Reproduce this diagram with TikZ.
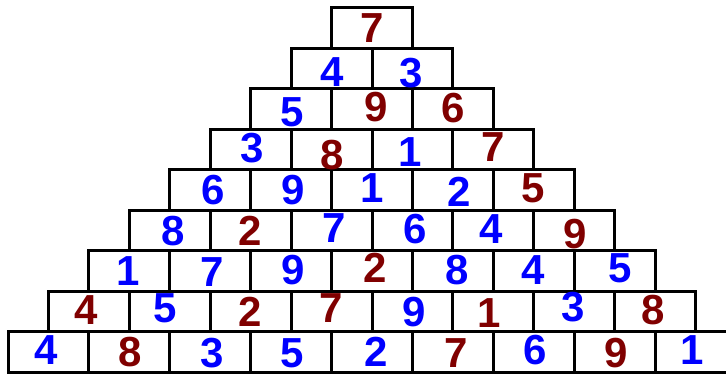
\documentclass[tikz,border=0pt]{standalone}
\usepackage{fontspec}
\setmainfont{Liberation Sans}
\definecolor{dblue}{RGB}{0,0,255}
\definecolor{dred}{RGB}{128,0,0}
\tikzset{
  cell/.style={draw=black, line width=3pt},
  dig/.style={font=\fontsize{42}{42}\selectfont\bfseries, inner sep=0pt, anchor=center},
  B/.style={dig, text=dblue},
  R/.style={dig, text=dred}
}
\begin{document}
\begin{tikzpicture}[x=1pt,y=-1pt]
\useasboundingbox (0,0) rectangle (726,374);
\clip (0,0) rectangle (726,374);
\fill[white] (0,0) rectangle (726,374);
% cells
\foreach \r in {0,...,8}{
  \foreach \c in {0,...,\r}{
    \draw[cell] ({8+(8-\r)*40.45+\c*80.9},{8+\r*40.45}) rectangle ++(80.9,40.45);
  }
}
% digits
\foreach \x/\y/\d/\s [count=\i] in {
 372/28/7/R,
 332/72/4/B, 411/73/3/B,
 292/112/5/B, 376/107/9/R, 453/108/6/R,
 252/148/3/B, 332/155/8/R, 410/152/1/B, 493/147/7/R,
 213/190/6/B, 293/190/9/B, 372/188/1/B, 459/192/2/B, 533/188/5/R,
 173/231/8/B, 250/231/2/R, 334/228/7/B, 415/229/6/B, 491/229/4/B, 575/234/9/R,
 128/271/1/B, 212/272/7/B, 293/270/9/B, 375/268/2/R, 457/270/8/B, 533/270/4/B, 620/268/5/B,
 86/310/4/R, 165/308/5/B, 250/312/2/R, 331/308/7/R, 414/312/9/B, 489/313/1/R, 573/307/3/B, 653/310/8/R,
 46/350/4/B, 130/352/8/R, 212/353/3/B, 292/353/5/B, 376/352/2/B, 456/353/7/R, 535/350/6/B, 616/353/9/R, 692/350/1/B}{
  \node[\s] (d\i) at (\x,\y) {\d};
}
\end{tikzpicture}
\end{document}
